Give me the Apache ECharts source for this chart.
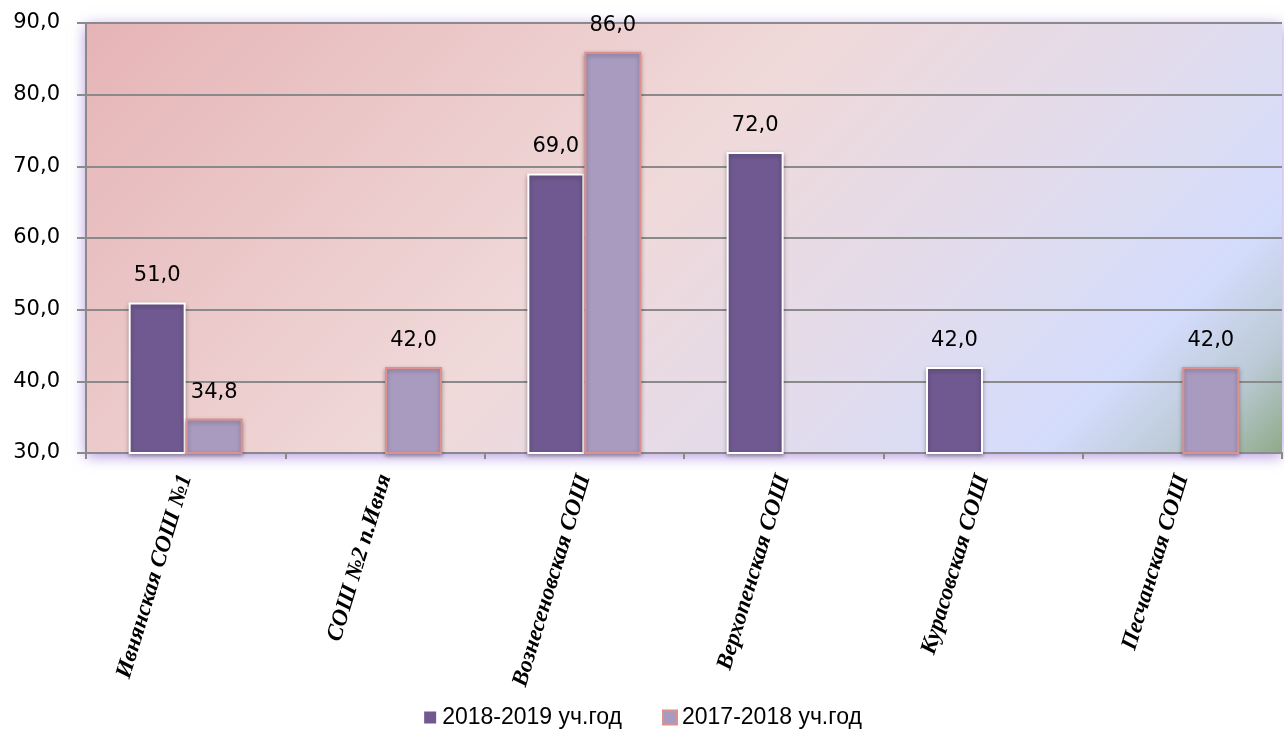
<!DOCTYPE html>
<html><head><meta charset="utf-8">
<script src="https://cdn.jsdelivr.net/npm/echarts@6/dist/echarts.min.js"></script>
<style>html,body{margin:0;padding:0;background:#fff}#c{width:1284px;height:731px}</style>
</head><body><div id="c"></div>
<script>
var categories = ['Ивнянская СОШ №1','СОШ №2 п.Ивня','Вознесеновская СОШ','Верхопенская СОШ','Курасовская СОШ','Песчанская СОШ'];
var series2019 = [51.0, null, 69.0, 72.0, 42.0, null];
var series2018 = [34.8, 42.0, 86.0, null, null, 42.0];
var seriesNames = ['2018-2019 уч.год','2017-2018 уч.год'];
var yTicks = [30, 40, 50, 60, 70, 80, 90];

var chart = echarts.init(document.getElementById('c'));
function fmt(v){ return Number(v).toFixed(1).replace('.', ','); }
var labelStyle = {show:true, position:'top', distance:16, color:'#000', fontFamily:'DejaVu Sans', fontSize:21, formatter:function(p){return fmt(p.value);}};
chart.setOption({
  animation:false,
  grid:{left:86, right:2, top:23, bottom:278, show:true, borderWidth:0,
    backgroundColor:{type:'linear', x:86, y:23, x2:899, y2:836, global:true, colorStops:[
      {offset:0, color:'#e6b4b6'},{offset:0.45, color:'#f0d9d9'},{offset:0.7, color:'#e1dcee'},{offset:0.85, color:'#d4dcfc'},{offset:0.93, color:'#bccad6'},{offset:1, color:'#8eaa88'}]},
    shadowBlur:14, shadowColor:'rgba(150,110,210,0.75)', shadowOffsetX:0, shadowOffsetY:3},
  legend:{top:701, left:'center', itemWidth:14, itemHeight:14, itemGap:40, icon:'rect',
    textStyle:{fontFamily:'Liberation Sans', fontSize:23, color:'#000'},
    data:seriesNames},
  xAxis:{type:'category', data:categories,
    axisLine:{show:true, lineStyle:{color:'#8a8a8a', width:2}},
    axisTick:{show:true, length:6, lineStyle:{color:'#8a8a8a', width:2}},
    axisLabel:{rotate:73, margin:22, interval:0, fontFamily:'Liberation Serif', fontStyle:'italic', fontWeight:'bold', fontSize:23, color:'#000'}},
  yAxis:{type:'value', min:yTicks[0], max:yTicks[yTicks.length-1], interval:10,
    axisLine:{show:true, lineStyle:{color:'#8a8a8a', width:2}},
    axisTick:{show:true, length:9, lineStyle:{color:'#8a8a8a', width:2}},
    splitLine:{lineStyle:{color:'#8a8a8a', width:2}},
    axisLabel:{margin:26, fontFamily:'DejaVu Sans', fontSize:21, color:'#000', formatter:function(v){return fmt(v);}}},
  series:[
    {name:seriesNames[0], type:'bar', data:series2019, barWidth:'28.6%', barGap:'0%',
     itemStyle:{color:'#6f5990', borderColor:'#ffffff', borderWidth:2, shadowBlur:4, shadowColor:'rgba(0,0,0,0.3)', shadowOffsetY:2},
     label:labelStyle},
    {name:seriesNames[1], type:'bar', data:series2018, barWidth:'28.6%',
     itemStyle:{color:'#a99bbf', borderColor:'#dc9090', borderWidth:2, shadowBlur:4, shadowColor:'rgba(0,0,0,0.3)', shadowOffsetY:2},
     label:labelStyle}
  ]
});
</script></body></html>
